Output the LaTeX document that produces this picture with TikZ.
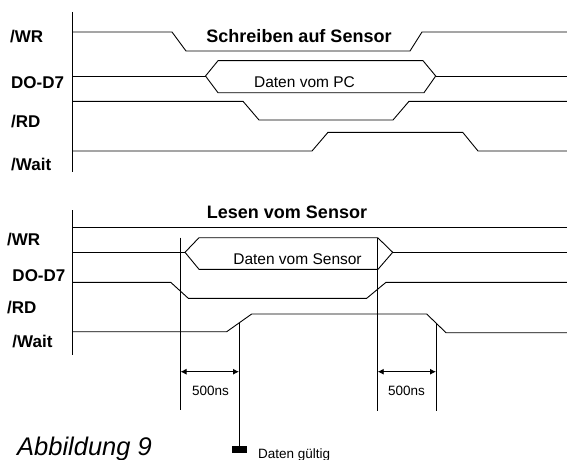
\documentclass[tikz,border=0pt]{standalone}
\usepackage{fontspec}
\setmainfont{Liberation Sans}
\usetikzlibrary{arrows.meta}
\tikzset{
  sig/.style={line width=0.9pt, line join=miter},
  axis/.style={line width=1pt},
  guide/.style={line width=0.8pt},
  dimarrow/.style={line width=0.9pt, {Latex[length=6pt,width=6pt]}-{Latex[length=6pt,width=6pt]}},
  lbl/.style={anchor=base west, inner sep=0pt, font=\bfseries\fontsize{17}{20}\selectfont},
  ttl/.style={anchor=base, inner sep=0pt, font=\bfseries\fontsize{18}{21}\selectfont},
  dat/.style={anchor=base, inner sep=0pt, font=\fontsize{15.5}{18}\selectfont},
  dimtxt/.style={anchor=base, inner sep=0pt, font=\fontsize{13.5}{16}\selectfont},
  small/.style={anchor=base west, inner sep=0pt, font=\fontsize{13.5}{16}\selectfont},
  fig/.style={anchor=base west, inner sep=0pt, font=\itshape\fontsize{25.5}{30}\selectfont}
}
\begin{document}
\begin{tikzpicture}[x=1pt,y=-1pt]
\useasboundingbox (0,0) rectangle (567,460);
\fill[white] (0,0) rectangle (567,460);

% ---------- top section: Schreiben auf Sensor ----------
\node[lbl] (tWR) at (10,42.7) {/WR};
\node[lbl] (tDO) at (11,88) {DO-D7};
\node[lbl] (tRD) at (11,127) {/RD};
\node[lbl] (tWait) at (11,170) {/Wait};
\node[ttl] (tTitle) at (299,42) {Schreiben auf Sensor};
\node[dat] (tData) at (304.5,87.3) {Daten vom PC};

\draw[axis] (72,12) -- (72,172);
\draw[sig] (72,32) -- (172,32) -- (186,51) -- (410,51) -- (422,32) -- (567,32);
\draw[sig] (72,76) -- (205.5,76);
\draw[sig] (205.5,76) -- (218,60.7) -- (423,60.7) -- (435.7,76) -- (424,92.7) -- (218,92.7) -- cycle;
\draw[sig] (435.7,76) -- (567,76);
\draw[sig] (72,101.3) -- (243,101.3) -- (259,120) -- (393,120) -- (409,101.3) -- (567,101.3);
\draw[sig] (72,151) -- (312,151) -- (328,132.3) -- (462.7,132.3) -- (478,151) -- (567,151);

% ---------- bottom section: Lesen vom Sensor ----------
\node[lbl] (bWR) at (7,245) {/WR};
\node[lbl] (bDO) at (12.3,281) {DO-D7};
\node[lbl] (bRD) at (7,313) {/RD};
\node[lbl] (bWait) at (12.3,347) {/Wait};
\node[ttl] (bTitle) at (287,218) {Lesen vom Sensor};
\node[dat] (bData) at (297.5,264) {Daten vom Sensor};

\draw[axis] (72,210) -- (72,355);
\draw[sig] (72,227.3) -- (567,227.3);
\draw[sig] (72,252.3) -- (185,252.3);
\draw[sig] (185,252.3) -- (199,237.7) -- (377.7,237.7) -- (392.7,252.3) -- (378,269.3) -- (199,269.3) -- cycle;
\draw[sig] (392.7,252.3) -- (567,252.3);
\draw[sig] (72,282.3) -- (170.7,282.3) -- (188.3,298.3) -- (366.7,298.3) -- (386,282.3) -- (567,282.3);
\draw[sig] (72,331.7) -- (226.7,331.7) -- (251.7,314) -- (426.7,314) -- (446,332.7) -- (567,332.7);

% ---------- timing guides ----------
\coordinate (g1t) at (180.5,237.7);
\coordinate (g1b) at (180.5,410);
\coordinate (g2t) at (239,322.5);
\coordinate (g2b) at (239,446);
\coordinate (g3t) at (377.7,237.7);
\coordinate (g3b) at (377.7,411);
\coordinate (g4t) at (436,323);
\coordinate (g4b) at (436,411);
\draw[guide] (g1t) -- (g1b);
\draw[guide] (g2t) -- (g2b);
\draw[guide] (g3t) -- (g3b);
\draw[guide] (g4t) -- (g4b);

\coordinate (a1l) at (180.5,371.7);
\coordinate (a1r) at (239,371.7);
\coordinate (a2l) at (377.7,371.7);
\coordinate (a2r) at (436,371.7);
\draw[dimarrow] (a1l) -- (a1r);
\draw[dimarrow] (a2l) -- (a2r);
\node[dimtxt] (d1) at (210.5,395) {500ns};
\node[dimtxt] (d2) at (406.5,395) {500ns};

% ---------- marker ----------
\fill (232,446) rectangle (247,452.5);
\node[small] (valid) at (258,458) {Daten gültig};
\node[fig] (figlabel) at (17,455) {Abbildung 9};
\end{tikzpicture}
\end{document}
